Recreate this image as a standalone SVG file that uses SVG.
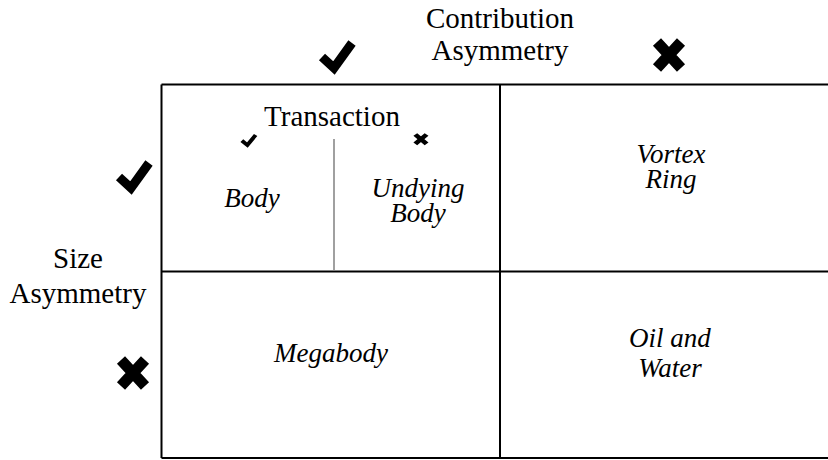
<svg xmlns="http://www.w3.org/2000/svg" width="828" height="460" viewBox="0 0 828 460">
<style>
  .lbl { fill: #000; text-anchor: middle; }
  .upr { font-size: 29px; }
  .ital { font-size: 27px; font-style: italic; }
  .grid { stroke: #000; stroke-width: 2; fill: none; }
  .sub { stroke: #808080; stroke-width: 1.5; fill: none; }
  .chk { fill: none; stroke: #000; stroke-width: 9; stroke-linejoin: miter; }
  .crs { fill: none; stroke: #000; stroke-width: 11; }
</style>
<rect width="828" height="460" fill="#fff"/>

<g id="header-contribution">
  <text class="lbl upr" font-family="Liberation Serif, serif" x="500" y="28">Contribution</text>
  <text class="lbl upr" font-family="Liberation Serif, serif" x="500" y="60">Asymmetry</text>
  <path class="chk" transform="translate(318,38)" d="M4,19 L16,30 L34,5"/>
  <path class="crs" transform="translate(650,35)" d="M7,7 L31,33 M31,7 L7,33"/>
</g>

<g id="header-size">
  <text class="lbl upr" font-family="Liberation Serif, serif" x="78" y="268">Size</text>
  <text class="lbl upr" font-family="Liberation Serif, serif" x="78" y="303">Asymmetry</text>
  <path class="chk" transform="translate(115,158)" d="M4,19 L16,30 L34,5"/>
  <path class="crs" transform="translate(114,353)" d="M7,7 L31,33 M31,7 L7,33"/>
</g>

<g id="connectors">
  <line class="grid" x1="161.5" y1="84.5" x2="828" y2="84.5"/>
  <line class="grid" x1="161.5" y1="271.5" x2="828" y2="271.5"/>
  <line class="grid" x1="161.5" y1="458" x2="828" y2="458"/>
  <line class="grid" x1="161.5" y1="84.5" x2="161.5" y2="458"/>
  <line class="grid" x1="500" y1="84.5" x2="500" y2="458"/>
  <line class="sub" x1="334" y1="139" x2="334" y2="271"/>
</g>

<g id="cell-transaction">
  <text class="lbl upr" font-family="Liberation Serif, serif" x="332" y="126">Transaction</text>
  <path class="chk" transform="translate(240,133) scale(0.46,0.4)" d="M4,19 L16,30 L34,5"/>
  <path class="crs" transform="translate(412,132) scale(0.47,0.36)" d="M7,7 L31,33 M31,7 L7,33"/>
</g>

<g id="cell-body">
  <text class="lbl ital" font-family="Liberation Serif, serif" x="252" y="207">Body</text>
</g>

<g id="cell-undying-body">
  <text class="lbl ital" font-family="Liberation Serif, serif" x="418" y="197">Undying</text>
  <text class="lbl ital" font-family="Liberation Serif, serif" x="418" y="222">Body</text>
</g>

<g id="cell-vortex-ring">
  <text class="lbl ital" font-family="Liberation Serif, serif" x="671" y="163">Vortex</text>
  <text class="lbl ital" font-family="Liberation Serif, serif" x="671" y="188">Ring</text>
</g>

<g id="cell-megabody">
  <text class="lbl ital" font-family="Liberation Serif, serif" x="331" y="362">Megabody</text>
</g>

<g id="cell-oil-water">
  <text class="lbl ital" font-family="Liberation Serif, serif" x="670" y="347">Oil and</text>
  <text class="lbl ital" font-family="Liberation Serif, serif" x="670" y="377">Water</text>
</g>
</svg>
